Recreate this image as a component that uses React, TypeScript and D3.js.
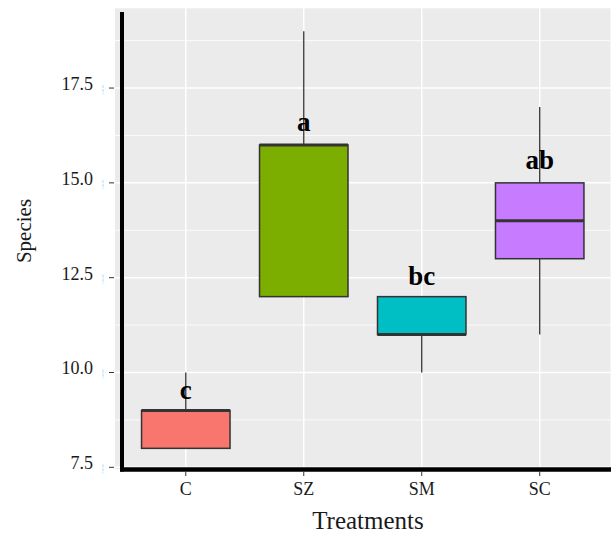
import React, { useEffect, useRef } from "react";
import * as d3 from "d3";

// treatments and box statistics
const treatments = ["C", "SZ", "SM", "SC"];
const colors = ["#F8766D", "#7CAE00", "#00BFC4", "#C77CFF"];
const whiskerLow = [8, 12, 10, 11];
const lowerHinge = [8, 12, 11, 13];
const medians = [9, 16, 11, 14];
const upperHinge = [9, 16, 12, 15];
const whiskerHigh = [10, 19, 12, 17];
const letters = ["c", "a", "bc", "ab"];
const letterY = [9.3, 16.37, 12.31, 15.37];
const yTicks = [7.5, 10, 12.5, 15, 17.5];
const yMinor = [8.75, 11.25, 13.75, 16.25, 18.75];

export default function App() {
  const ref = useRef<SVGSVGElement | null>(null);
  const width = 611;
  const height = 536;

  useEffect(() => {
    document.body.style.margin = "0";
    const svg = d3.select(ref.current).attr("width", width).attr("height", height);
    svg.selectAll("*").remove();

    const left = 115;
    const right = 610.5;
    const x = d3.scalePoint<string>().domain(treatments).range([left, right]).padding(0.6);
    const y = d3.scaleLinear().domain([7.45, 19.55]).range([469.2, 10.3]);
    const boxW = x.step() * 0.75;
    const font = "'Liberation Serif', 'Times New Roman', serif";

    // panel
    svg
      .append("rect")
      .attr("x", left)
      .attr("y", y(19.55) - 2)
      .attr("width", right - left)
      .attr("height", y(7.45) - y(19.55) + 2)
      .attr("fill", "#EBEBEB");

    // grid
    svg
      .append("g")
      .selectAll("line")
      .data(yMinor)
      .join("line")
      .attr("x1", left)
      .attr("x2", right)
      .attr("y1", (d) => y(d))
      .attr("y2", (d) => y(d))
      .attr("stroke", "#fff")
      .attr("stroke-width", 0.8);

    svg
      .append("g")
      .selectAll("line")
      .data(yTicks)
      .join("line")
      .attr("x1", left)
      .attr("x2", right)
      .attr("y1", (d) => y(d))
      .attr("y2", (d) => y(d))
      .attr("stroke", "#fff")
      .attr("stroke-width", 1.5);

    svg
      .append("g")
      .selectAll("line")
      .data(treatments)
      .join("line")
      .attr("x1", (d) => x(d)!)
      .attr("x2", (d) => x(d)!)
      .attr("y1", y(19.55) - 2)
      .attr("y2", y(7.45))
      .attr("stroke", "#fff")
      .attr("stroke-width", 1.5);

    // boxes
    const g = svg
      .append("g")
      .selectAll("g")
      .data(treatments)
      .join("g");

    g.append("line")
      .attr("x1", (d) => x(d)!)
      .attr("x2", (d) => x(d)!)
      .attr("y1", (d, i) => y(whiskerHigh[i]))
      .attr("y2", (d, i) => y(upperHinge[i]))
      .attr("stroke", "#333")
      .attr("stroke-width", 1.3);

    g.append("line")
      .attr("x1", (d) => x(d)!)
      .attr("x2", (d) => x(d)!)
      .attr("y1", (d, i) => y(lowerHinge[i]))
      .attr("y2", (d, i) => y(whiskerLow[i]))
      .attr("stroke", "#333")
      .attr("stroke-width", 1.3);

    g.append("rect")
      .attr("x", (d) => x(d)! - boxW / 2)
      .attr("width", boxW)
      .attr("y", (d, i) => y(upperHinge[i]))
      .attr("height", (d, i) => y(lowerHinge[i]) - y(upperHinge[i]))
      .attr("fill", (d, i) => colors[i])
      .attr("stroke", "#333")
      .attr("stroke-width", 1.5);

    g.append("line")
      .attr("x1", (d) => x(d)! - boxW / 2)
      .attr("x2", (d) => x(d)! + boxW / 2)
      .attr("y1", (d, i) => y(medians[i]))
      .attr("y2", (d, i) => y(medians[i]))
      .attr("stroke", "#333")
      .attr("stroke-width", 3);

    g.append("text")
      .attr("x", (d) => x(d)!)
      .attr("y", (d, i) => y(letterY[i]))
      .attr("text-anchor", "middle")
      .attr("font-family", font)
      .attr("font-weight", "700")
      .attr("font-size", "27px")
      .attr("fill", "#000")
      .text((d, i) => letters[i]);

    // axis lines
    svg
      .append("line")
      .attr("x1", 122)
      .attr("x2", 122)
      .attr("y1", 12)
      .attr("y2", 471.5)
      .attr("stroke", "#000")
      .attr("stroke-width", 4);

    svg
      .append("line")
      .attr("x1", 120)
      .attr("x2", width)
      .attr("y1", 469.5)
      .attr("y2", 469.5)
      .attr("stroke", "#000")
      .attr("stroke-width", 4.3);

    // y ticks
    const yt = svg.append("g").selectAll("g").data(yTicks).join("g");
    yt.append("line")
      .attr("x1", 109)
      .attr("x2", 114)
      .attr("y1", (d) => y(d))
      .attr("y2", (d) => y(d))
      .attr("stroke", "#333")
      .attr("stroke-width", 1);
    yt.append("line")
      .attr("x1", 103)
      .attr("x2", 103)
      .attr("y1", (d) => y(d) - 3)
      .attr("y2", (d) => y(d) + 6)
      .attr("stroke", "#b5d8f2")
      .attr("stroke-width", 1)
      .attr("stroke-dasharray", "3,1");
    yt.append("text")
      .attr("x", 93)
      .attr("y", (d) => y(d) + 2)
      .attr("text-anchor", "end")
      .attr("font-family", font)
      .attr("font-size", "18px")
      .attr("fill", "#1a1a1a")
      .text((d) => d3.format(".1f")(d));

    // x ticks
    const xt = svg.append("g").selectAll("g").data(treatments).join("g");
    xt.append("line")
      .attr("x1", (d) => x(d)!)
      .attr("x2", (d) => x(d)!)
      .attr("y1", 471.5)
      .attr("y2", 476)
      .attr("stroke", "#333")
      .attr("stroke-width", 1);
    xt.append("text")
      .attr("x", (d) => x(d)!)
      .attr("y", 495)
      .attr("text-anchor", "middle")
      .attr("font-family", font)
      .attr("font-size", "18px")
      .attr("fill", "#1a1a1a")
      .text((d) => d);

    // axis titles
    svg
      .append("text")
      .attr("x", 368)
      .attr("y", 529)
      .attr("text-anchor", "middle")
      .attr("font-family", font)
      .attr("font-size", "25px")
      .attr("fill", "#1a1a1a")
      .text("Treatments");

    svg
      .append("text")
      .attr("transform", `translate(31, 231) rotate(-90)`)
      .attr("text-anchor", "middle")
      .attr("font-family", font)
      .attr("font-size", "21px")
      .attr("fill", "#1a1a1a")
      .text("Species");
  }, []);

  return <svg ref={ref} style={{ display: "block" }} />;
}
